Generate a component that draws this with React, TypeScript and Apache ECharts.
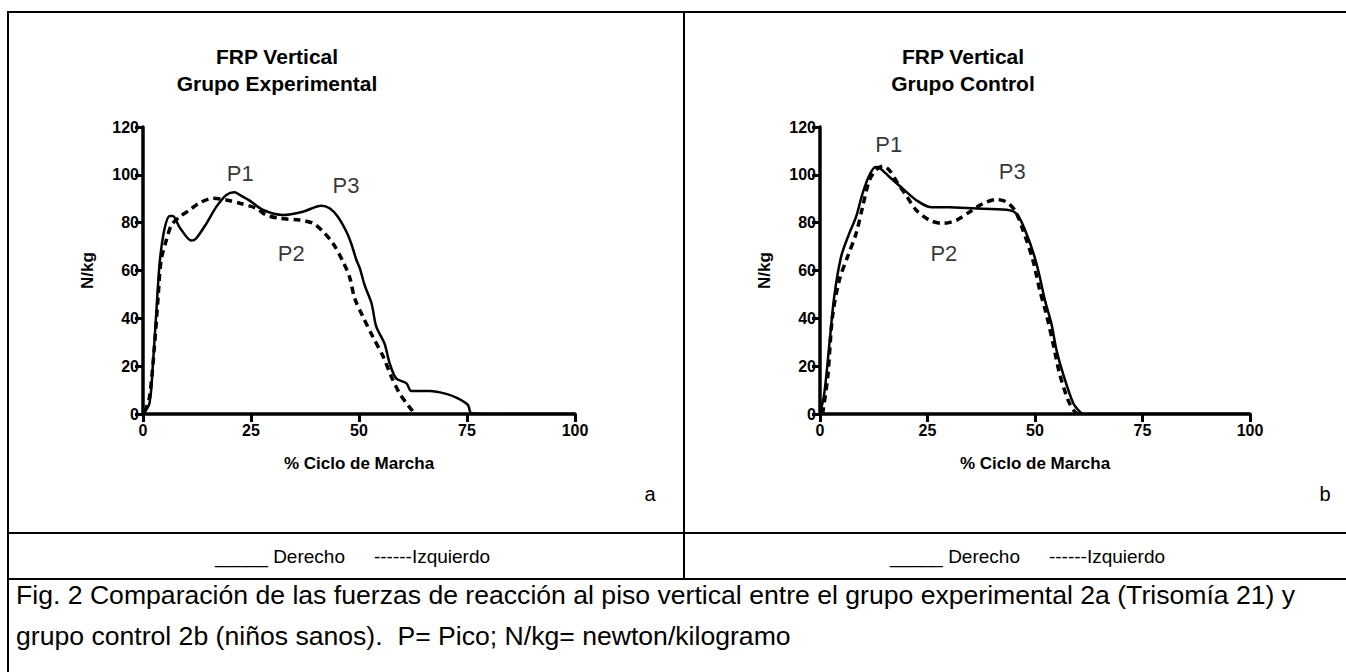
import React, { useEffect, useRef } from "react";
import * as echarts from "echarts";

// ---- Data (x = % ciclo de marcha, y = N/kg) ----
const xMin = 0, xMax = 100, xStep = 25;
const yMin = 0, yMax = 120, yStep = 20;

const expDerecho: [number, number][] = [
  [0, 0], [1.5, 4.5], [2.3, 21], [3.1, 43], [3.9, 64], [5, 77.6], [6.2, 82.8], [6.9, 82.8],
  [8.5, 78], [11.2, 72.5], [12.3, 73.4], [14.7, 79.7], [17, 86.7], [19.3, 91.6], [21.2, 92.7],
  [22.4, 91.6], [24.7, 89.2], [27.8, 85.3], [32.4, 83.2], [37, 84.6], [41.3, 87.1], [43.2, 86],
  [45.1, 82.5], [47.1, 76.2], [48.2, 71.3], [49.4, 64.4], [50.2, 60.9], [51.3, 53.9], [52.9, 46.3],
  [54, 36.5], [55.9, 29.5], [57.1, 21.2], [58.6, 14.9], [61, 12.8], [62.1, 9.6], [66.4, 9.6],
  [70.2, 8.4], [72.9, 6.5], [75.2, 3.8], [76, 0.3], [80, 0], [100, 0],
];

const expIzquierdo: [number, number][] = [
  [0.4, 1], [1.5, 7], [2.7, 29.5], [3.5, 49], [4.2, 64.4], [5.4, 72.7], [6.6, 79], [8.5, 82.5],
  [10.8, 85.3], [13.1, 88.3], [16.2, 90.2], [19.3, 89.5], [22.4, 88.1], [26.2, 86], [28.5, 83.2],
  [31.6, 81.8], [36.3, 81.1], [39.4, 79.7], [41.7, 76.2], [44, 71.3], [46.3, 63.7], [47.8, 57.4],
  [49, 48.4], [50.9, 40.7], [53.2, 32.3], [55.6, 24], [57.5, 15.6], [59.4, 8.6], [61.3, 3.8],
  [62.5, 1], [62.9, 0],
];

const ctlDerecho: [number, number][] = [
  [0, 0], [1, 8.6], [2.2, 29.5], [3.3, 49], [4.9, 65.7], [6.8, 75.5], [8.4, 82.5], [9.9, 92.2],
  [11.5, 99.9], [12.9, 103.3], [13.8, 103], [16.1, 99.2], [19.2, 94.3], [22.4, 89.4], [25.5, 86.6],
  [30.1, 86.4], [37.9, 85.8], [44.1, 85.2], [46, 83.1], [48, 75.5], [49.9, 65.7], [51.1, 57.4],
  [52.3, 47.6], [53.8, 37.9], [55, 26.7], [56.5, 17], [58.9, 4.5], [60.4, 1], [61.2, 0], [80, 0], [100, 0],
];

const ctlIzquierdo: [number, number][] = [
  [0.6, 0], [1.8, 15.6], [2.9, 40.7], [4.5, 56], [6.4, 65.7], [8.4, 75.5], [9.9, 86.6], [11.5, 97.8],
  [13, 102], [14.6, 103.6], [16.1, 102], [18.1, 96.4], [20, 91.5], [22.4, 85.2], [25.5, 81],
  [28.6, 79.7], [31.7, 81], [34.8, 84.5], [37.9, 88], [41, 89.7], [43.3, 88.7], [45.3, 85.2],
  [47.2, 76.9], [49.5, 64.4], [51.1, 51.8], [52.6, 42], [54.2, 29.5], [55.7, 17], [57.7, 5.8],
  [59.2, 1], [60, 0],
];

const peakNames = ["P1", "P2", "P3"];
const expPeakPos: [number, number][] = [[22.5, 100.7], [34.3, 67.3], [47, 95.7]];
const ctlPeakPos: [number, number][] = [[16, 112.5], [28.8, 67.3], [44.7, 101.2]];

const chartTitles = ["FRP Vertical\nGrupo Experimental", "FRP Vertical\nGrupo Control"];
const panelLetters = ["a", "b"];
const xAxisName = "% Ciclo de Marcha";
const yAxisName = "N/kg";
const legendSolid = "_____ Derecho";
const legendDashed = "------Izquierdo";
const captionLines = [
  "Fig. 2 Comparación de las fuerzas de reacción al piso vertical entre el grupo experimental 2a (Trisomía 21) y",
  "grupo control 2b (niños sanos).  P= Pico; N/kg= newton/kilogramo",
];

const FONT = "'Liberation Sans', Arial, Helvetica, sans-serif";

export default function App() {
  const ref = useRef<HTMLDivElement>(null);

  useEffect(() => {
    if (!ref.current) return;
    const chart = echarts.init(ref.current, undefined, { renderer: "svg" });

    const grids = [
      { left: 143, top: 127, width: 432, height: 287 },
      { left: 820, top: 127, width: 430, height: 287 },
    ];

    const axisCommon = {
      axisLine: { show: true, lineStyle: { color: "#000", width: 3.5 } },
      axisTick: { show: true, length: 8, lineStyle: { color: "#000", width: 3 } },
      splitLine: { show: false },
      axisLabel: { color: "#000", fontFamily: FONT, fontWeight: "bold", fontSize: 16 },
    };

    const xAxes = grids.map((_, i) => ({
      ...axisCommon,
      type: "value",
      gridIndex: i,
      min: xMin,
      max: xMax,
      interval: xStep,
      axisLabel: { ...axisCommon.axisLabel, margin: 8 },
      name: xAxisName,
      nameLocation: "middle",
      nameGap: 41,
      nameTextStyle: { color: "#000", fontFamily: FONT, fontWeight: "bold", fontSize: 17 },
    }));

    const yAxes = grids.map((_, i) => ({
      ...axisCommon,
      type: "value",
      gridIndex: i,
      min: yMin,
      max: yMax,
      interval: yStep,
      axisLabel: { ...axisCommon.axisLabel, margin: 4 },
      name: yAxisName,
      nameLocation: "middle",
      nameGap: 47,
      nameRotate: 90,
      nameTextStyle: { color: "#000", fontFamily: FONT, fontWeight: "bold", fontSize: 17 },
    }));

    const solid = (data: [number, number][], i: number) => ({
      type: "line",
      xAxisIndex: i,
      yAxisIndex: i,
      data,
      smooth: 0.3,
      showSymbol: false,
      lineStyle: { color: "#000", width: 2.5, type: "solid" },
      z: 3,
    });
    const dashed = (data: [number, number][], i: number) => ({
      type: "line",
      xAxisIndex: i,
      yAxisIndex: i,
      data,
      smooth: 0.3,
      showSymbol: false,
      lineStyle: { color: "#000", width: 3.5, type: [7, 5] },
      z: 3,
    });
    const peaks = (pos: [number, number][], i: number) => ({
      type: "scatter",
      xAxisIndex: i,
      yAxisIndex: i,
      symbolSize: 0,
      data: pos.map((p, k) => ({ value: p, name: peakNames[k] })),
      label: {
        show: true,
        position: "inside",
        formatter: "{b}",
        color: "#000",
        fontFamily: FONT,
        fontSize: 22,
      },
      z: 4,
    });

    const lineStyle = { stroke: "#000", lineWidth: 2 };
    const tableLines = [
      { shape: { x1: 7, y1: 12, x2: 1346, y2: 12 } },
      { shape: { x1: 8, y1: 12, x2: 8, y2: 672 } },
      { shape: { x1: 684, y1: 12, x2: 684, y2: 579 } },
      { shape: { x1: 8, y1: 533, x2: 1346, y2: 533 } },
      { shape: { x1: 8, y1: 579, x2: 1346, y2: 579 } },
    ].map((l) => ({ type: "line", ...l, style: lineStyle, silent: true }));

    const titleCenters = [277, 963];
    const titleTexts = chartTitles.map((t, i) => ({
      type: "text",
      x: titleCenters[i],
      y: 70,
      style: {
        text: t,
        fill: "#000",
        font: `bold 21px ${FONT}`,
        align: "center",
        verticalAlign: "middle",
        lineHeight: 27,
      },
    }));

    const letterPos = [[650, 494], [1325, 494]];
    const letterTexts = panelLetters.map((t, i) => ({
      type: "text",
      x: letterPos[i][0],
      y: letterPos[i][1],
      style: { text: t, fill: "#000", font: `20px ${FONT}`, align: "center", verticalAlign: "middle" },
    }));

    const legendX = [[280, 432], [955, 1107]];
    const legendTexts: any[] = [];
    legendX.forEach((xs) => {
      legendTexts.push({
        type: "text",
        x: xs[0],
        y: 556,
        style: { text: legendSolid, fill: "#000", font: `19px ${FONT}`, align: "center", verticalAlign: "middle" },
      });
      legendTexts.push({
        type: "text",
        x: xs[1],
        y: 556,
        style: { text: legendDashed, fill: "#000", font: `19px ${FONT}`, align: "center", verticalAlign: "middle" },
      });
    });

    const captionTexts = captionLines.map((t, i) => ({
      type: "text",
      x: 16,
      y: 595 + i * 41,
      style: { text: t, fill: "#000", font: `26.6px ${FONT}`, align: "left", verticalAlign: "middle" },
    }));

    chart.setOption({
      animation: false,
      backgroundColor: "#fff",
      grid: grids,
      xAxis: xAxes,
      yAxis: yAxes,
      series: [
        solid(expDerecho, 0),
        dashed(expIzquierdo, 0),
        peaks(expPeakPos, 0),
        solid(ctlDerecho, 1),
        dashed(ctlIzquierdo, 1),
        peaks(ctlPeakPos, 1),
      ],
      graphic: [...tableLines, ...titleTexts, ...letterTexts, ...legendTexts, ...captionTexts],
    });

    return () => chart.dispose();
  }, []);

  return (
    <div
      ref={ref}
      style={{ position: "absolute", left: 0, top: 0, width: 1346, height: 672, background: "#fff" }}
    />
  );
}
